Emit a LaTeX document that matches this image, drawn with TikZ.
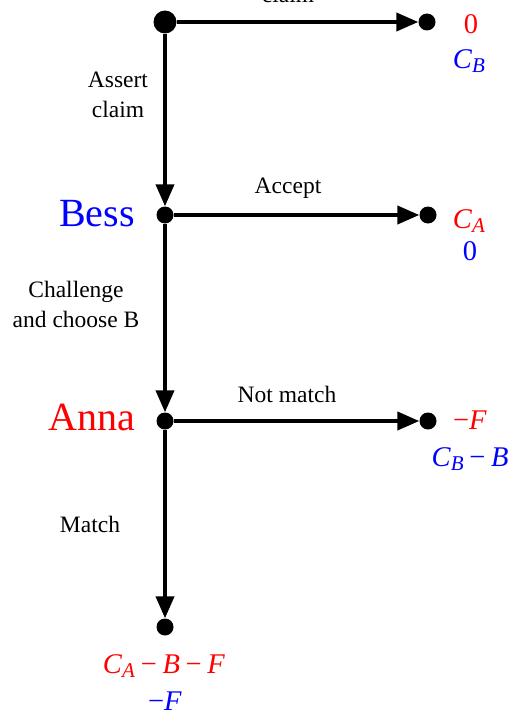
\documentclass[tikz,border=0pt]{standalone}
\usepackage{fontspec}
\setmainfont{Liberation Serif}
\usetikzlibrary{arrows.meta}
\newcommand{\mysubs}[1]{\raisebox{-0.16em}{\fontsize{21pt}{21pt}\selectfont\itshape #1}}
\newcommand{\mminus}{\hspace{0.2em}−\hspace{0.2em}}
\begin{document}
\begin{tikzpicture}[x=1pt,y=-1pt,
  dot/.style={circle,fill=black,inner sep=0pt,minimum size=17pt},
  bigdot/.style={circle,fill=black,inner sep=0pt,minimum size=23pt},
  arr/.style={line width=4pt,-{Triangle[length=22pt,width=18pt]}},
  lab/.style={font=\fontsize{23.5pt}{28pt}\selectfont,anchor=base,inner sep=0pt},
  player/.style={font=\fontsize{40pt}{44pt}\selectfont,anchor=base,inner sep=0pt},
  pay/.style={font=\fontsize{28.5pt}{32pt}\selectfont,anchor=base,inner sep=0pt}]
\useasboundingbox (0,0) rectangle (523,725);
% nodes
\node[bigdot] (root) at (165,22) {};
\node[dot] (t1) at (427,22) {};
\node[dot] (bess) at (165,215) {};
\node[dot] (t2) at (428,215) {};
\node[dot] (anna) at (165,421) {};
\node[dot] (t3) at (428,421) {};
\node[dot] (t4) at (165,627) {};
% connectors
\draw[arr] (root) -- (t1);
\draw[arr] (root) -- (bess);
\draw[arr] (bess) -- (t2);
\draw[arr] (bess) -- (anna);
\draw[arr] (anna) -- (t3);
\draw[arr] (anna) -- (t4);
% action labels
\node[lab] (l0) at (288,3) {claim};
\node[lab] (l1a) at (118,87) {Assert};
\node[lab] (l1b) at (118,117) {claim};
\node[lab] (l2) at (288,193) {Accept};
\node[lab] (l3a) at (76,297) {Challenge};
\node[lab] (l3b) at (76,327) {and choose B};
\node[lab] (l4) at (287,402) {Not match};
\node[lab] (l5) at (90,532) {Match};
% players
\node[player,text=blue] (pb) at (97,226) {Bess};
\node[player,text=red] (pa) at (92,430) {Anna};
% payoffs
\node[pay,text=red] (p1a) at (471,34) {0};
\node[pay,text=blue] (p1b) at (469,68) {\textit{C}\mysubs{B}};
\node[pay,text=red] (p2a) at (469,228) {\textit{C}\mysubs{A}};
\node[pay,text=blue] (p2b) at (470,260) {0};
\node[pay,text=red] (p3a) at (470,429) {−\textit{F}};
\node[pay,text=blue] (p3b) at (470,466) {\textit{C}\mysubs{B}\mminus\textit{B}};
\node[pay,text=red] (p4a) at (164,673) {\textit{C}\mysubs{A}\mminus\textit{B}\mminus\textit{F}};
\node[pay,text=blue] (p4b) at (165,710) {−\textit{F}};
\end{tikzpicture}
\end{document}
